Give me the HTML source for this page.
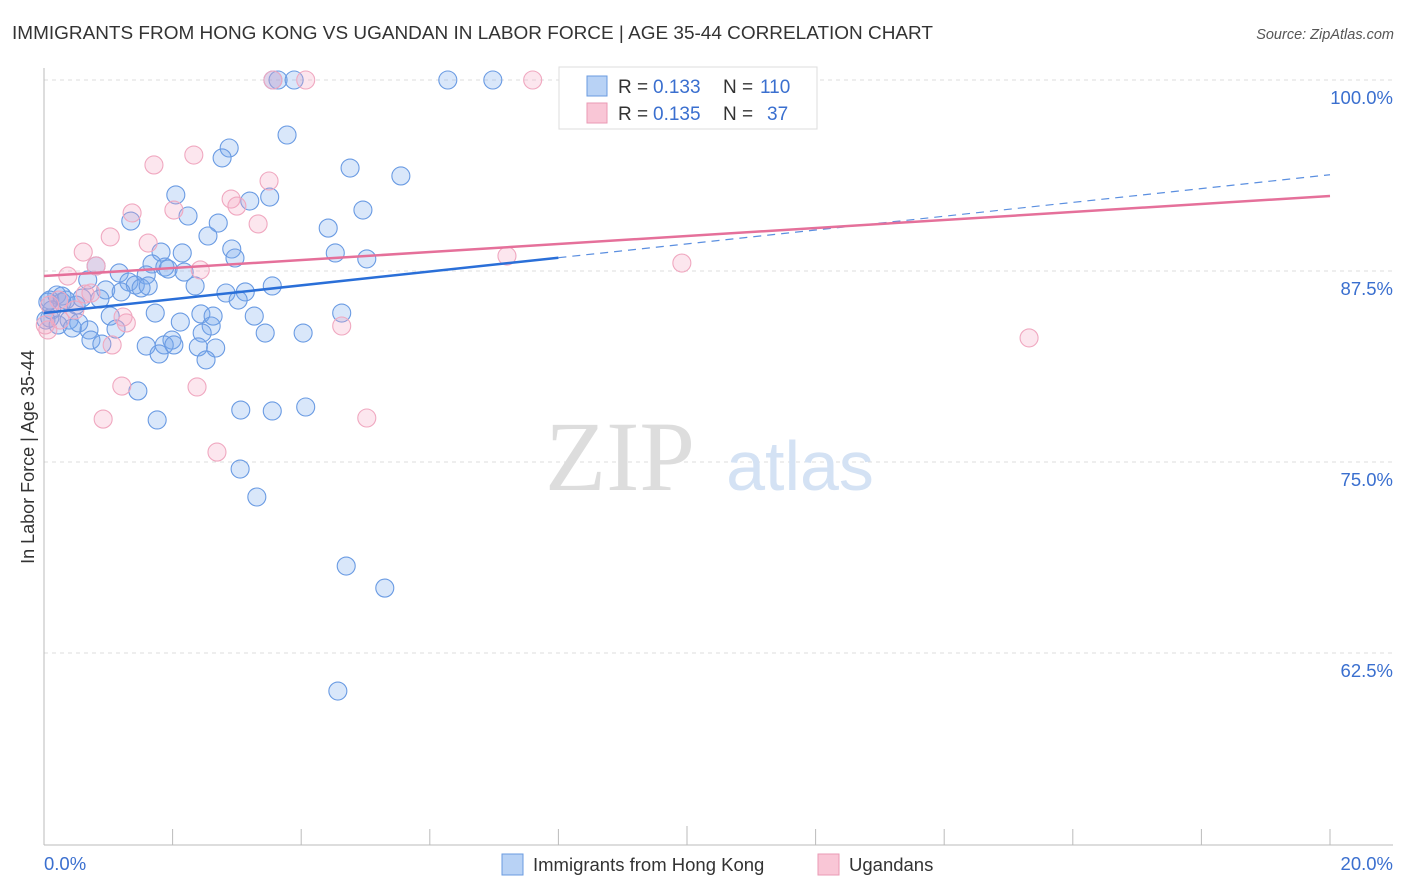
<!DOCTYPE html>
<html><head><meta charset="utf-8"><style>
body{margin:0;background:#fff;font-family:"Liberation Sans",sans-serif}
svg{display:block}
</style></head><body>
<svg id="chart" width="1406" height="892">
<text x="12" y="39" font-size="18" fill="#333" textLength="921" lengthAdjust="spacingAndGlyphs">IMMIGRANTS FROM HONG KONG VS UGANDAN IN LABOR FORCE | AGE 35-44 CORRELATION CHART</text>
<text x="1394" y="39" font-size="14.5" fill="#555" font-style="italic" text-anchor="end">Source: ZipAtlas.com</text>
<g id="grid"></g>
<text x="34" y="457" font-size="18" fill="#333" text-anchor="middle" transform="rotate(-90 34 457)">In Labor Force | Age 35-44</text>
<text x="620" y="490" font-size="100" fill="#ddd" font-family="Liberation Serif,serif" text-anchor="middle">ZIP</text>
<text x="800" y="490" font-size="70" fill="#d4e2f4" text-anchor="middle">atlas</text>
<g id="pts"></g>
<g id="lines"></g>
<g>
<rect x="559" y="67" width="258" height="62" fill="#fff" stroke="#ddd"/>
<rect x="587" y="76" width="20" height="20" fill="#b8d2f5" stroke="#6a9be0"/>
<rect x="587" y="103" width="20" height="20" fill="#f9c6d6" stroke="#ea9ab4"/>
<text x="618" y="93" font-size="19" fill="#333">R =</text>
<text x="653" y="93" font-size="19" fill="#3a6fcf">0.133</text>
<text x="723" y="93" font-size="19" fill="#333">N =</text>
<text x="760" y="93" font-size="19" fill="#3a6fcf">110</text>
<text x="618" y="120" font-size="19" fill="#333">R =</text>
<text x="653" y="120" font-size="19" fill="#3a6fcf">0.135</text>
<text x="723" y="120" font-size="19" fill="#333">N =</text>
<text x="767" y="120" font-size="19" fill="#3a6fcf">37</text>
</g>
<g>
<rect x="502" y="854" width="21" height="21" fill="#b8d2f5" stroke="#6a9be0"/>
<text x="533" y="871" font-size="18.5" fill="#333">Immigrants from Hong Kong</text>
<rect x="818" y="854" width="21" height="21" fill="#f9c6d6" stroke="#ea9ab4"/>
<text x="849" y="871" font-size="18.5" fill="#333">Ugandans</text>
</g>
</svg>
<script>
const yTicks=[100,87.5,75,62.5];
const yTickLabels=["100.0%","87.5%","75.0%","62.5%"];
const xTickLabels=["0.0%","20.0%"];
const hkX=[3.56,3.64,3.89,6.28,6.98,3.78,2.88,2.77,4.76,5.55,2.05,3.51,3.20,4.96,2.24,1.35,2.71,4.42,2.55,2.92,1.82,2.15,4.53,2.97,5.02,1.68,0.81,1.88,1.93,2.18,1.17,1.59,0.68,1.32,1.42,2.35,1.51,3.55,1.62,0.96,2.83,3.13,1.20,0.20,0.87,3.02,0.50,0.09,0.28,1.73,3.27,4.63,1.03,2.44,2.63,2.12,2.60,0.39,0.54,0.09,2.46,3.44,4.03,1.12,0.70,1.99,0.73,0.90,1.59,1.87,2.02,2.40,2.67,1.79,2.52,1.46,3.06,3.55,4.07,1.76,3.05,3.31,4.70,5.30,4.57,0.03,0.12,0.22,0.34,0.44,0.59,0.28,0.06];
const hkY=[100,100,100,100,100,96.4,95.55,94.9,94.24,93.72,92.48,92.34,92.08,91.49,91.1,90.77,90.64,90.31,89.79,88.94,88.74,88.68,88.68,88.35,88.29,87.96,87.83,87.76,87.63,87.43,87.37,87.24,86.91,86.78,86.58,86.52,86.39,86.52,86.52,86.26,86.06,86.13,86.13,85.93,85.67,85.6,85.27,85.6,85.47,84.75,84.55,84.75,84.55,84.69,84.55,84.16,83.9,84.29,84.1,84.42,83.44,83.44,83.44,83.7,83.64,82.98,82.98,82.72,82.59,82.66,82.66,82.53,82.46,82.07,81.68,79.65,78.4,78.34,78.6,77.75,74.54,72.71,68.19,66.75,60.01,84.29,84.95,83.97,85.6,83.77,85.73,85.86,85.47];
const ugX=[3.56,4.07,7.60,1.71,2.33,3.50,2.91,3.00,2.02,1.37,3.33,1.03,0.61,1.62,0.81,2.43,7.20,9.92,0.37,0.73,0.64,0.23,0.09,0.06,1.06,1.28,1.23,4.63,15.32,1.21,2.38,0.92,5.02,2.69,0.02,0.25,0.48];
const ugY=[100,100,100,94.44,95.09,93.39,92.21,91.75,91.49,91.3,90.58,89.73,88.74,89.33,87.83,87.57,88.48,88.02,87.17,86.06,85.99,85.6,85.27,83.64,82.66,84.1,84.49,83.9,83.12,79.97,79.91,77.81,77.88,75.65,83.97,84.29,84.95];
const hkTrend=[84.75,93.8];
const ugTrend=[87.17,92.41];
const NS="http://www.w3.org/2000/svg";
function X(v){return 44+v*64.3;}
function Y(v){return 80+(100-v)*15.28;}
function mk(tag,attrs,parent){const e=document.createElementNS(NS,tag);for(const k in attrs)e.setAttribute(k,attrs[k]);parent.appendChild(e);return e;}
const grid=document.getElementById('grid');
yTicks.forEach((t,i)=>{
  const l=mk('line',{x1:44,x2:1393,y1:Y(t),y2:Y(t),stroke:'#ddd','stroke-dasharray':'4,4'},grid);
  
  
  const tx=mk('text',{x:1393,y:Y(t)+24,'font-size':18.5,fill:'#3a6fcf','text-anchor':'end'},grid);
  tx.textContent=yTickLabels[i];
  
  
});
mk('line',{x1:44,x2:44,y1:68,y2:845,stroke:'#bbb'},grid);
mk('line',{x1:44,x2:1393,y1:845,y2:845,stroke:'#bbb'},grid);
for(let i=0;i<=10;i++){
  const t=mk('line',{x1:X(i*2),x2:X(i*2),y1:i==5?826:829,y2:845,stroke:'#bbb'},grid);
  
  
}
[[0,'start',44],[20,'end',1393]].forEach((a,i)=>{
  const tx=mk('text',{x:a[2],y:870,'font-size':18.5,fill:'#3a6fcf','text-anchor':a[1]},grid);
  tx.textContent=xTickLabels[i];
  
  
});
const pts=document.getElementById('pts');
hkX.forEach((x,i)=>{
  const c=mk('circle',{cx:X(x),cy:Y(hkY[i]),r:9,fill:'rgba(120,168,238,0.28)',stroke:'#6a9be3','stroke-width':1.1},pts);
  
  
});
ugX.forEach((x,i)=>{
  const c=mk('circle',{cx:X(x),cy:Y(ugY[i]),r:9,fill:'rgba(245,165,195,0.28)',stroke:'#f0a8c0','stroke-width':1.1},pts);
  
  
});
const lines=document.getElementById('lines');
function ty(tr,x){return tr[0]+(tr[1]-tr[0])*x/20;}
const b1=mk('line',{x1:X(0),y1:Y(ty(hkTrend,0)),x2:X(8),y2:Y(ty(hkTrend,8)),stroke:'#2a6fd8','stroke-width':2.5},lines);


const b2=mk('line',{x1:X(8),y1:Y(ty(hkTrend,8)),x2:X(20),y2:Y(ty(hkTrend,20)),stroke:'#5b8fe0','stroke-width':1.2,'stroke-dasharray':'8,6'},lines);


const p1=mk('line',{x1:X(0),y1:Y(ty(ugTrend,0)),x2:X(20),y2:Y(ty(ugTrend,20)),stroke:'#e5709a','stroke-width':2.5},lines);


</script>
</body></html>
